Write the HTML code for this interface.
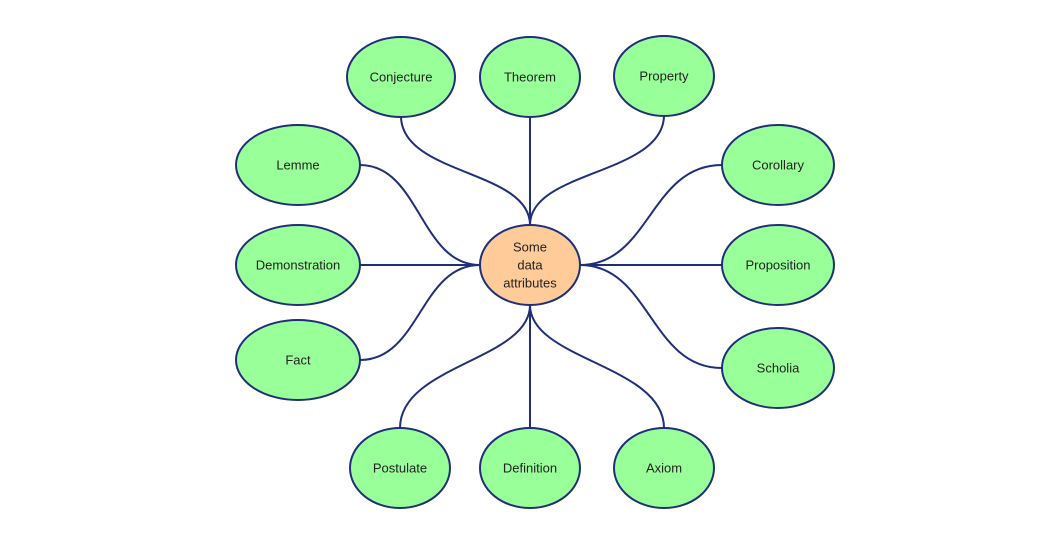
<!DOCTYPE html>
<html><head><meta charset="utf-8"><style>
html,body{margin:0;padding:0;background:#fff;}
svg{display:block;}
text{font-family:"Liberation Sans",Arial,sans-serif;font-size:13px;fill:#222;text-anchor:middle;dominant-baseline:central;}
</style></head><body>
<svg width="1050" height="550" viewBox="0 0 1050 550" xmlns="http://www.w3.org/2000/svg">
<g fill="none" stroke="#1f2f7a" stroke-width="2">
<path d="M401,116 C401,175 530,170 530,225"/>
<path d="M530,116 L530,225"/>
<path d="M664,115 C664,175 530,170 530,225"/>
<path d="M360,165 C420,165 420,265 480,265"/>
<path d="M360,265 L480,265"/>
<path d="M360,360 C420,360 420,265 480,265"/>
<path d="M722,165 C650,165 650,265 580,265"/>
<path d="M722,265 L580,265"/>
<path d="M722,368 C650,368 650,265 580,265"/>
<path d="M400,428 C400,365 530,360 530,305"/>
<path d="M530,428 L530,305"/>
<path d="M664,428 C664,365 530,360 530,305"/>
</g>
<g stroke="#1f2f7a" stroke-width="2" fill="#99ff99">
<ellipse cx="401" cy="77" rx="54" ry="40"/>
<ellipse cx="530" cy="77" rx="50" ry="40"/>
<ellipse cx="664" cy="76" rx="50" ry="40"/>
<ellipse cx="298" cy="165" rx="62" ry="40"/>
<ellipse cx="298" cy="265" rx="62" ry="40"/>
<ellipse cx="298" cy="360" rx="62" ry="40"/>
<ellipse cx="778" cy="165" rx="56" ry="40"/>
<ellipse cx="778" cy="265" rx="56" ry="40"/>
<ellipse cx="778" cy="368" rx="56" ry="40"/>
<ellipse cx="400" cy="468" rx="50" ry="40"/>
<ellipse cx="530" cy="468" rx="50" ry="40"/>
<ellipse cx="664" cy="468" rx="50" ry="40"/>
<ellipse cx="530" cy="265" rx="50" ry="40" fill="#ffcc99"/>
</g>
<text x="401" y="77">Conjecture</text>
<text x="530" y="77">Theorem</text>
<text x="664" y="76">Property</text>
<text x="298" y="165">Lemme</text>
<text x="298" y="265">Demonstration</text>
<text x="298" y="360">Fact</text>
<text x="778" y="165">Corollary</text>
<text x="778" y="265">Proposition</text>
<text x="778" y="368">Scholia</text>
<text x="400" y="468">Postulate</text>
<text x="530" y="468">Definition</text>
<text x="664" y="468">Axiom</text>
<text x="530" y="247">Some</text>
<text x="530" y="265">data</text>
<text x="530" y="283">attributes</text>
</svg>
</body></html>
